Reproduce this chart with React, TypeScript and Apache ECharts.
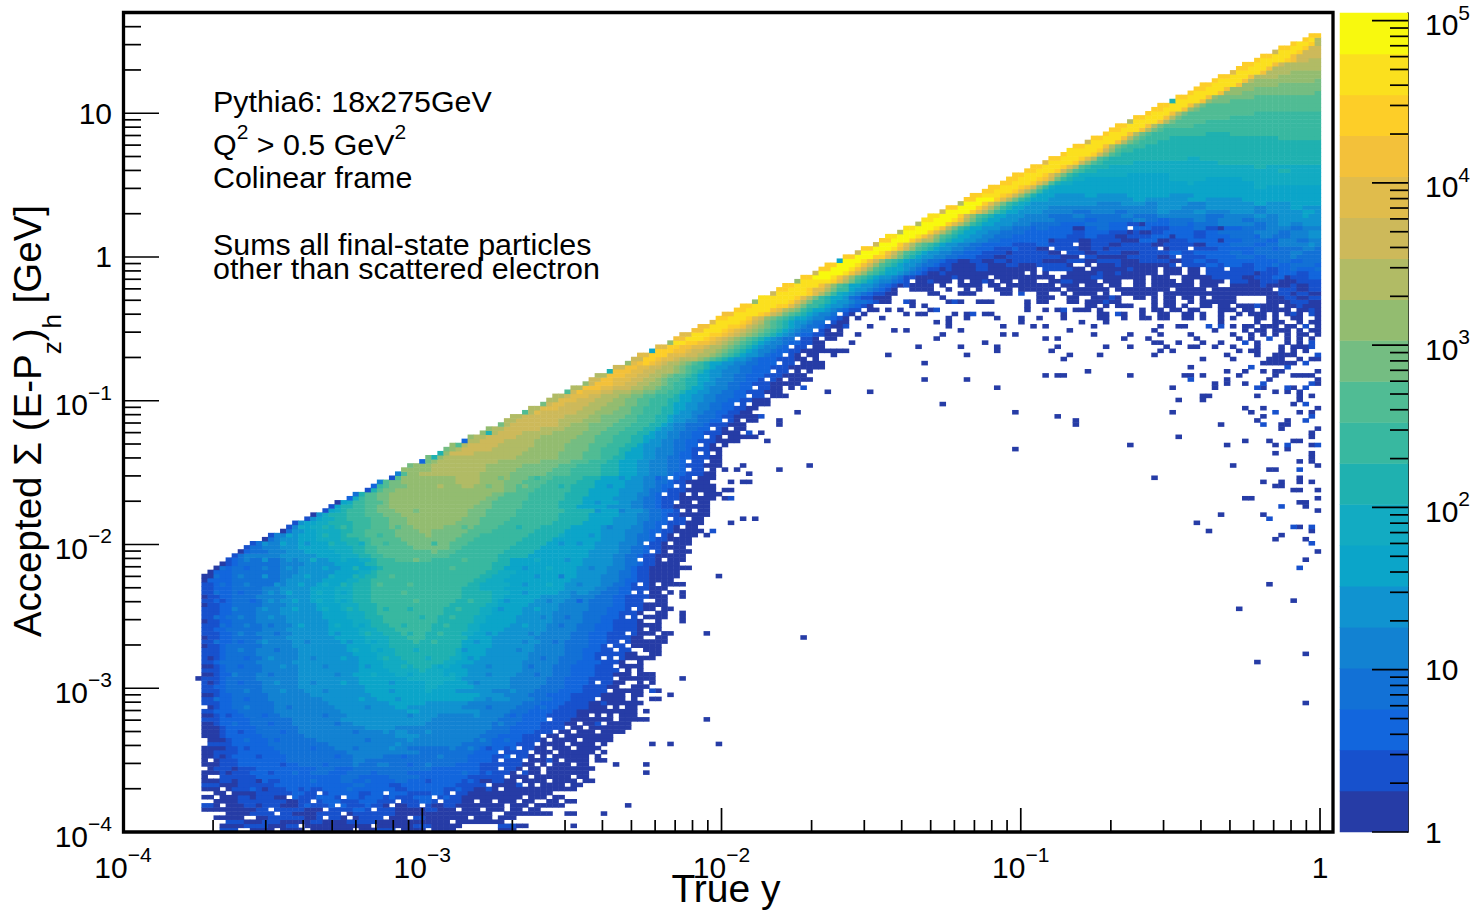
import React, { useEffect, useRef } from "react";
import * as echarts from "echarts";

// Colour band of the palette, from the lowest (1) to the highest (20)
const BAND_COLORS = ["#263ca6","#1751cd","#1266dd","#1271d6","#1282d2","#1093d0","#0ba5c9","#12abc2","#1fb1b0","#38b8a0","#50bc94","#74bd82","#93bc70","#b1bb65","#cdb95a","#e0bc4c","#f3c13a","#fdce28","#fbe01e","#f8f90e"];
const FONT = "Liberation Sans, Arial, Helvetica, sans-serif";

// One line per y bin (bottom to top): start bin, then runs. Letter a..t = colour band, number = last x bin of the run, ".N" = empty up to bin N.
const ROWS = [
"16 b18 .21 a24 .26 a29 .31 a37 .39 a41 .42 b44 .46 a49 .51 a54 .62 a64",
"16 a19 .20 b23 .24 a26 .27 b28 .30 a35 .36 a40 .42 a47 .48 b50 .51 a55 .62 b64 a66",
"17 b19 .20 a22 .23 b25 .26 a30 .31 b32 .33 a36 .37 b41 .42 a46 .47 a48 .49 a53 .55 a59 .60 a62",
"15 a16 .17 a19 .22 a23 .24 b26 .27 b29 a31 .32 b35 a38 .39 b42 .44 a47 b49 .50 a52 a56 .58 a60 .62 a64",
"15 .17 a18 .19 a20 b27 .28 a31 b35 a37 .38 b44 .45 a52 .53 a54 .55 a57 .58 a60 .63 a64 .65 a66 .67 a68 .69 a70 .73 a74",
"13 a15 .16 a17 .18 a21 b29 a32 b37 c39 b44 a49 b51 .52 a54 .56 a58 .60 a62 .64 a65 .67 a68",
"13 b14 a15 .17 a19 b25 a28 b33 c36 b42 a46 b50 a52 b54 a55 .56 a59 .60 a62 .64 a66 .68 a70 .71 a72",
"13 a15 .16 a18 b26 a28 b32 c35 b38 c41 b48 c50 b55 a57 .59 a60 .62 a64 .66 a67 .70 a71 .73 a74",
"13 a14 .16 a18 b24 a26 b31 c34 b36 c42 b47 c50 b55 a60 .61 a63 .64 a65 .67 a69 .71 a72",
"13 a16 .18 a19 a21 b27 c29 b33 c38 b40 c46 b50 c52 b56 a60 .61 a64 .65 a67 .68 a70",
"13 a15 a17 b22 a23 b26 c30 b32 c44 b46 c52 b57 a59 b60 a65 .66 a68 .69 a71 .72 a74",
"13 b15 a16 .17 a18 b24 c37 d39 c43 b45 c54 b60 a64 b65 a67 .69 a72 .74 a75",
"13 a15 b21 a22 b25 c35 d37 c44 d46 c55 b58 a60 b62 a66 .67 a69 .71 a74 .76 a77",
"13 a15 b21 c35 d38 c43 d48 c56 b62 a66 b67 a70 .71 a73 .75 a76",
"13 a15 b20 c30 d33 c36 d46 c55 d56 c58 b63 a65 b66 a72 .73 a74 .75 a76",
"13 a14 b17 a18 b21 c31 d34 c37 d50 c58 b64 a72 .73 a76",
"13 a15 b18 c28 d41 e43 d54 c58 b65 a68 .69 a71 .72 a76",
"13 a15 b18 c26 d37 e39 d56 c60 b66 a69 b70 a72 .73 a76 .78 a79",
"13 a14 b17 c26 d37 e42 d56 c60 b66 a72 .73 a76 .78 a78",
"13 a14 b18 c25 d36 e48 d57 c61 b66 a74 .75 a77 .79 a79",
"13 a15 b18 c24 d34 e46 d56 e57 d58 c62 b67 a73 .74 a78",
"13 b17 c23 d33 e44 f45 e55 d60 c64 b68 a77 .78 a79",
"14 a15 b17 c23 d31 e46 f47 e57 d60 c65 b68 a76 .77 a80",
"13 a15 b16 c22 d29 e44 f48 e58 d61 c65 b69 a74 .75 a80",
"13 a14 b16 c21 d28 e42 f46 e59 d63 c67 b71 a78 .79 a82",
"13 a15 b16 c21 d28 e39 f44 e60 d63 c68 b72 a80 .81 a83",
"13 a14 b15 c20 d27 e37 f49 e60 d64 c68 b72 a77 b78 a81 .82 a83",
"13 b15 c20 d27 e35 f50 e61 d65 c69 b73 a82 .83 a86",
"13 a14 b15 c19 d25 e36 f51 e62 d65 c69 b74 a80 .82 a84",
"13 b14 c18 d24 e35 f46 g48 f58 e63 d66 c70 b74 a80 .81 a84",
"13 a14 b15 c17 d24 e34 f44 g46 f55 e64 d67 c71 b76 a84",
"13 b15 c17 d24 e33 f43 g49 f56 e65 d68 c72 b76 a78 b79 a84",
"13 b14 c17 d23 e32 f41 g57 f63 e67 d70 c73 b77 a82 .84 a84",
"13 a14 b15 c17 d23 e30 f40 g58 f62 e66 d69 c73 b78 a82 .83 a85",
"13 b14 c16 d22 e29 f39 g54 f60 e67 d71 c75 b79 a85",
"13 b14 c16 d22 e28 f39 g49 h51 g57 f63 e68 d72 c75 b79 a84 .85 a86",
"13 b15 c16 d22 e28 f38 g50 h52 g56 f63 e69 d72 c76 b80 a85",
"12 a12 b15 c16 d21 e28 f38 g46 h54 g55 f63 e69 d72 c76 b80 a87",
"13 a14 b15 c17 d21 e28 f37 g44 h52 g56 f64 e70 d73 c77 b80 a85 .86 a87",
"13 b15 c16 d22 e28 f38 g43 h48 i49 h52 g56 f65 e70 d73 c77 b81 a85",
"13 a14 b15 c16 d22 e28 f38 g42 h47 i50 h53 g55 f65 e70 d73 c77 b80 a85",
"13 b14 c15 d21 e27 f38 g42 h46 i52 h54 g57 f65 e71 d74 c78 b81 a86",
"13 b15 c16 d22 e28 f38 g41 h45 i53 h55 g58 f66 e71 d75 c77 b82 a86 .87 a87",
"13 b15 c16 d21 e28 f37 g41 h44 i54 h55 g59 f66 e72 d75 c77 b82 a88",
"13 b14 c16 d21 e28 f36 g40 h44 i54 h56 g59 f67 e72 d75 c78 b83 a86 .87 a88",
"13 a13 b15 c16 d22 e27 f36 g40 h43 i55 g60 f67 e72 d76 c78 b83 a88",
"13 b15 c17 d21 e27 f35 g39 h43 i47 j48 i55 g60 f68 e72 d76 c79 b83 a88",
"13 a13 b15 c17 d22 e26 f34 g39 h43 i46 j49 i56 g60 f67 e73 d76 c79 b83 a89",
"13 b15 c17 d21 e27 f33 g38 h42 i45 j49 i55 h57 g61 f68 e73 d76 c79 b84 a87 .89 a89",
"13 b14 c16 d22 e26 f33 g38 h41 i44 j50 i56 h58 g62 f69 e74 d77 c80 b84 a88",
"13 b15 c17 d22 e27 f33 g37 h40 i43 j50 i56 h58 g63 f69 e74 d77 c80 b84 a87",
"13 a13 b15 c17 d21 e26 f33 g37 h40 i42 j51 i57 h59 g64 f70 e75 d78 c80 b84 a88",
"13 b14 c16 d21 e26 f32 g36 h39 i42 j51 i57 h59 g64 f70 e75 d78 c81 b85 a89",
"13 b15 c17 d21 e25 f32 g36 h39 i41 j52 i58 h60 g65 f70 e75 d79 c81 b84 a89",
"13 b14 c17 d21 e25 f31 g35 h38 i41 j52 i58 h60 g65 f71 e76 d79 c82 b85 a90",
"13 a13 b15 c17 d22 e26 f31 g35 h38 i41 j53 i59 h61 g66 f71 e76 d80 c82 b85 a89",
"13 b14 c17 d22 e25 f30 g34 h37 i40 j54 i60 h61 g67 f72 e76 d80 c82 b85 a89",
"13 a13 b15 c17 d21 e26 f30 g34 h37 i40 j55 i60 h62 g68 f73 e77 d80 c82 b86 a89",
"13 b14 c17 d22 e25 f30 g34 h37 i40 j55 i60 h63 g71 f76 e78 d81 c83 b85 a88 .90 a90",
"13 b14 c17 d22 e25 f30 g34 h37 i40 j55 i58 h62 g72 f77 e79 d81 c83 b86 a89",
"13 b14 c17 d24 e26 f31 g35 h37 i40 j56 i58 h63 g72 f78 e80 d82 c83 b86 a90 .91 a92",
"13 a13 c17 d25 e26 f32 g36 h38 i40 j57 i59 h62 g73 f78 e81 d82 c84 b86 a90",
"13 a14 c17 d25 e27 f33 g37 h39 i41 j58 i60 h63 g74 f78 e81 d83 c84 b86 a91",
"14 a14 c17 d25 e28 f34 g38 h40 i41 j59 i61 h64 g74 f79 e81 d83 c84 b86 a91",
"15 a15 c17 d25 e28 f35 g40 h41 i42 j60 i62 g74 f79 e82 d83 c84 b86 a90 .91 a93",
"16 a16 b17 c18 d25 e29 f34 g39 i41 j60 i63 g75 f80 e82 d84 c85 b87 a91",
"17 b17 c18 d25 e28 f33 g38 h40 i41 j44 k50 j61 i63 g75 f80 e82 d84 c85 b87 a92",
"18 b18 d19 e25 f31 g35 h38 i40 j42 k53 j61 i66 g76 f80 e82 d84 c85 b87 a92",
"19 a19 c20 d23 e26 f29 g34 h37 i39 j41 k50 l51 k54 j62 i67 g76 f81 e83 d85 c86 b88 a93",
"20 b20 d22 e25 f28 g33 h37 i39 j41 k47 l53 k55 j63 i68 g77 f81 e83 d85 c86 b88 a92",
"21 b21 d23 e25 f28 g33 h36 i38 j40 k46 l53 k56 j64 i69 g77 f81 e84 d85 c86 b88 a93",
"23 a23 d24 e25 f28 g31 h35 i38 j40 k45 l54 k57 j65 i70 g78 f82 e84 d86 c87 b89 a93",
"24 b24 e26 f28 g31 h35 i37 j39 k44 l55 k58 j66 i71 g78 f82 e84 d86 c87 b89 a94",
"26 a26 d27 f29 g31 h35 i37 j39 k44 l48 m50 l56 k60 j67 i72 g78 f82 e85 d86 c88 b90 a95",
"27 b27 e28 g30 h34 i37 j39 k43 l47 m52 l57 k61 j68 i73 g78 f83 e85 d87 c88 b90 a94",
"28 b28 f29 g31 h33 i37 j40 k43 l46 m54 l58 k62 j70 i75 g80 f84 e85 d87 c89 b92 a95",
"30 b30 f31 g32 h34 i36 j40 k43 l46 m55 l58 k63 j71 i76 g80 f84 e86 d88 c89 b92 a95",
"31 a31 f32 h33 i36 j39 k42 l45 m56 l59 k64 j71 i76 g81 f84 e86 d88 c89 b91 a96",
"33 b33 g34 i36 j39 k41 l44 m56 l59 k64 j72 i77 g81 f85 e86 d88 c90 b91 a96",
"34 b34 g35 i37 j39 k41 l43 m57 l60 k65 j71 i74 g79 f83 e85 d87 c88 b90 a96",
"35 a35 g36 h37 j39 k41 l43 m58 l60 k65 j71 i75 g80 f83 e85 d87 c88 b90 a96",
"37 c37 h38 j39 k41 l43 m59 l61 k66 j72 i75 g80 f84 e85 d87 c88 b91 a95 .96 a97",
"38 d38 i39 k41 l43 m60 l62 k66 j72 i76 g81 f84 e86 d87 c89 b91 a96 .98 a98",
"40 b40 i41 k42 l44 m62 l64 k67 j73 i76 g81 f85 e86 d88 c89 b92 a96 .97 a97 .99 a100",
"41 c41 j42 k43 l45 m55 n57 m62 l64 k68 j73 i77 g82 f85 e87 d88 c90 b92 a95 .96 a97",
"42 e42 k43 l45 m54 n58 m62 l65 k69 j74 i77 g82 f85 e87 d89 c90 b92 a96",
"44 b44 k45 m53 n58 m63 l66 k70 j75 i78 g83 f85 e88 d89 c91 b93 a97",
"45 e45 k46 m48 n58 m63 l69 k73 j78 i81 g84 f86 e89 d90 c92 b95 a97",
"46 m50 n59 m64 l70 k73 j78 i81 g84 f86 e89 d91 c92 b95 a97 .99 a99 .101 a101",
"47 l47 m50 n59 m65 l71 k74 j78 i81 g84 f86 e89 d91 c92 b95 a97 .98 a98",
"49 c49 l50 m51 n61 m68 l73 k76 j79 i81 g84 f86 e89 d91 c93 b95 a98",
"50 l50 i51 m52 n64 m71 l75 k78 j80 i82 g85 f87 e89 d91 c93 b96 a98",
"52 i52 m53 o57 n65 m71 l75 k78 j81 i82 g85 f87 e90 d91 c93 b96 a98",
"53 l53 m54 n55 o60 n66 m72 l76 k78 j81 i83 g85 f87 e90 d92 c93 b96 a98",
"54 m54 k55 n56 o61 n67 m72 l76 k79 j82 i84 g85 f88 e90 d92 c94 b96 a99",
"56 c56 n58 o62 n67 m73 l77 k80 j83 i85 g86 f88 e90 d92 c94 b97 a99 .100 a101",
"57 m57 n59 o64 n68 m74 l77 k80 j83 i85 g87 f89 e91 d93 c95 b97 a100 .101 a102",
"59 m59 i60 n61 o65 n70 m75 l78 k81 j84 i86 g87 f89 e91 d93 c95 b98 a101",
"60 m60 n62 o68 n72 m76 l79 k82 j85 i87 g88 f90 e92 d94 c96 b98 a101 .102 a102",
"62 l62 n63 o71 n73 m76 l80 k83 j86 i88 g89 f90 e92 d95 c96 b99 a102",
"63 n64 o71 n75 m78 l81 k84 j87 i89 g90 f92 e94 d96 c98 b100 a104",
"64 n65 o72 n76 m78 l82 k84 j87 i89 g90 f93 e94 d97 c98 b100 a103 .104 a105",
"66 k66 n67 p68 o74 n77 m80 l83 k85 j88 i90 g91 f93 e95 d97 c99 b101 a103",
"67 n68 p71 o75 n78 m81 l83 k85 j88 i90 g92 f94 e96 d98 c100 b102 a104",
"69 l69 o70 p72 o76 n79 m82 l84 k86 j89 i90 g92 f94 e96 d98 c100 b103 a105",
"70 n71 p74 o77 n80 m82 l84 k86 j89 i91 g93 f95 e97 d99 c101 b103 a106",
"71 n72 o73 p76 o78 n81 m83 l85 k87 j90 i91 g93 f95 e97 d100 c102 b105 a107 .108 a109",
"73 k73 o74 q75 p78 o80 n83 m85 l87 k89 j91 i92 g94 f96 e98 d100 c102 b105 a108",
"74 n75 q78 p80 o83 n85 m87 l88 k90 j92 i93 g95 f96 e99 d101 c103 b106 a110",
"76 m76 o77 q80 p82 o84 n86 m88 l89 k90 j92 i94 g95 f97 e99 d101 c103 b106 a109 .110 a111",
"77 o78 q80 p83 o85 n87 m88 l89 k91 j92 i94 g96 f97 e100 d102 c104 b107 a110 .111 a113",
"78 n79 q82 p84 o86 n88 m89 l90 k92 j93 i94 g96 f98 e100 d102 c105 b108 a112",
"80 i80 q83 p85 o87 n90 m91 l92 k93 j94 i95 g96 f98 e101 d103 c106 b109 a113",
"81 o82 q84 p86 o88 n90 m91 l92 k93 j95 i96 g97 f99 e101 d103 c106 b109 a114",
"83 m83 p84 q85 r86 q87 p88 o89 n91 m92 l93 k94 j95 i96 g98 f100 e102 d104 c107 b110 a112 .113 a115",
"84 o85 r87 q88 p90 o91 n94 m95 l96 k97 j98 i99 g100 f102 e103 d104 c107 b110 a112 .114 a114",
"85 p86 r89 p92 o94 n96 m97 l98 k99 j100 i101 g102 f104 e105 d106 c108 b110 a114",
"87 g87 r90 q92 p93 o95 n97 m98 l99 k100 j101 i102 g103 f104 e106 d107 c109 b111 a114 .115 a119",
"88 p89 r91 q93 p95 o96 n98 m99 l100 k101 j102 i103 g104 f105 e107 d108 c110 b112 a115",
"90 m90 s92 r94 q96 p97 o98 n99 m100 l101 k102 j103 i104 g105 f106 e108 d109 c111 b113 a115",
"91 q92 s95 r96 q97 p98 o99 n100 m101 l102 k103 j104 i105 g106 f107 e108 d110 c111 b113 a117",
"92 p93 s96 r98 q99 p100 o101 n102 m103 l104 k105 j106 i107 g108 f109 e110 d111 c113 b115 a118",
"94 q95 s98 r99 q100 p101 o102 n103 m104 l105 k106 j107 i108 g109 f110 e111 d113 c114 b115 a118",
"95 q96 s99 r101 q102 o103 n104 m105 l106 k107 j108 i109 g110 f111 e112 d114 c115 b116 a118",
"97 p97 s101 r102 q103 o104 n105 l106 k107 j108 i109 g110 f112 e113 d115 c116 b117 a119",
"98 r99 s102 r103 p104 o105 m106 l107 k108 j109 i110 g112 f113 e115 d116 c117 b118 a119",
"99 q100 s103 s104 r105 q106 o107 n108 l109 k110 j111 i112 g113 f114 e116 d117 c118 b119 a120 .122 a122 .129 a129 .131 a132 .137 a137 .139 a139 b140 .142 a143 .155 a155 .161 a162 .164 b164 a165 .168 a168 .171 a172 .175 a176 .178 a178 .181 a181 .184 a184 .186 a188 .190 a190 .192 a192 b193 a194 .196 b196 a197",
"101 r102 s105 s106 q107 p108 n109 m110 l111 j112 i113 g115 f116 e117 d118 c119 b120 a120 b121 .123 a124 .126 a126 .128 a128 .133 a133 b134 .149 a149 .152 a152 .154 a154 b155 .157 a159 .161 a161 .168 a168 .170 a171 .173 a174 .176 a177 .181 a183 .185 a186 .188 a192 .194 a195 b196 a197",
"102 r103 s107 r109 p110 n111 l112 j114 i115 g116 f118 e119 d120 c121 b122 a123 .130 a130 .132 a132 .149 a149 .159 a160 .162 a162 .164 a166 .170 a170 .172 a173 .175 a175 .178 a179 .181 a182 .184 a186 b187 a190 .192 a193 b194 .195 a197",
"104 m104 s108 s109 r110 p111 n112 l113 j115 i116 g117 f119 e120 d122 c123 b124 a126 .129 b129 a130 .136 a136 b137 a138 .141 a143 .149 a149 .151 a152 .156 a157 .159 a161 b162 a163 .164 a164 .170 a170 .172 a173 .176 a176 .178 a180 .181 a183 .189 a192 .193 b195 a197",
"105 s106 s109 s110 r111 p112 n113 l114 j115 i116 g118 f119 d120 c121 b123 a126 .135 a135 .151 a152 .153 a153 .156 a157 .160 a160 .161 a162 .163 b163 a164 .167 a168 .170 a170 .172 a173 .175 a176 .178 a178 .180 a183 .189 a191 b193 a195 b197",
"107 o107 s111 s112 r113 p114 n115 l116 j117 h118 g119 f120 e121 d122 c123 b125 a127 .133 a134 .138 a140 .145 a146 .148 b148 .151 a152 .155 a155 .157 a157 .158 a160 .162 a162 .165 a167 .168 a169 .170 a170 .172 a173 .174 a178 .179 a184 .185 a190 b192 a193 b195 a198",
"108 r109 s112 r113 p115 n116 l117 j119 g120 f122 e123 d124 c125 b126 a127 .130 a133 .136 a136 .139 a139 .141 a141 .144 a146 .148 a149 .150 a152 .153 a154 .156 a158 .159 a161 .162 a162 .164 a165 .166 a168 .169 a172 .174 a175 .176 a178 .180 a181 .182 a186 .187 a189 .191 b193 a195 b198",
"109 r110 s113 s114 q115 o116 m117 k118 j119 g121 f123 e124 d125 c126 b127 a128 b129 .130 a133 .135 a135 .138 a141 .143 a144 .146 a149 .150 a153 .155 a157 .159 a161 .163 a164 .167 a168 .170 a172 .173 a175 .176 a176 .178 a180 .183 a187 b188 .189 a192 b193 .194 a195 b198",
"111 m111 s115 s116 r117 p118 n119 l120 j121 i122 g123 f124 e126 d127 c128 b129 .131 a132 b133 a136 .138 a138 .140 a141 b142 a143 .145 a146 .148 a150 .153 a154 .155 b156 a157 .158 a160 .162 a164 .167 a168 .170 a173 .175 a176 .178 a181 .183 b185 a187 b190 a193 b197 c198",
"112 r113 t116 s117 q118 o119 m120 k121 j122 i123 g124 f126 e127 d128 b130 a131 .132 a134 .135 a136 b137 a139 .140 a142 .144 a146 .147 a151 .152 a153 .155 a157 .158 a159 .160 b161 a164 .165 a168 .170 a172 .175 a176 .177 a179 .180 b184 a186 b189 c191 a192 b195 c198",
"114 o114 t118 s119 q120 o121 m122 k123 j124 i125 g127 f128 e129 d130 c131 b132 a134 b135 a137 .138 a139 a142 .143 a145 a148 .150 a150 .152 a152 .156 a160 b161 a163 b164 a166 .167 a168 .169 a170 .172 a174 .176 a177 .179 b182 .183 b186 a187 b190 c193 b195 c198",
"115 r116 t119 s120 q121 o122 m123 k124 j125 h126 g128 f129 e130 d131 c132 b134 a135 b136 a140 b142 a144 .145 a146 .147 a150 .152 b156 a158 .160 a162 .163 a165 b166 .167 a170 .172 a174 .176 a177 .179 b181 .183 b186 c188 b190 c192 d193 c196 d198",
"116 r117 t120 s121 q122 o123 m124 k125 j126 i127 g128 f130 e131 d133 c134 b136 a140 b142 a143 .144 a145 b147 a150 b155 a156 .159 a159 .161 a163 b164 a165 .166 a172 b173 .175 b178 c180 b181 c184 b186 c189 d190 c192 d196 c198",
"118 g118 t121 s122 q123 o124 m125 k126 j127 i128 g129 f131 e132 d134 c135 b137 a139 b141 a143 b145 a146 b151 .152 a155 b158 a160 b164 a167 b168 .169 b172 a174 b176 c178 b180 .181 c182 .183 c190 d192 c194 d198",
"119 r120 t123 r125 p126 n127 l128 j129 i130 g131 f133 e135 d137 c140 b143 a145 b149 .150 b154 .155 a157 .159 b160 .161 a165 b170 a172 b173 .175 b178 c183 d186 c188 d192 e193 d198",
"121 o121 t124 s125 q126 o127 m128 k129 j130 i131 g132 f134 e136 d138 c141 b145 a146 b152 .153 a154 .156 b158 a160 b164 .165 a167 b172 c174 b176 c182 d184 c186 d192 e194 d198",
"122 r123 t126 s127 q128 o129 m130 k131 j132 i133 g134 f136 e138 d140 c143 b146 c147 b150 a152 .154 b157 a159 .160 b161 a162 b170 .172 a172 b175 .177 b180 c186 d189 c190 d194 e196 d198",
"124 o124 t127 r128 p129 n130 l131 k132 j133 i134 g135 f137 e139 d141 c146 b150 c152 b156 .158 a159 b162 a164 b169 a171 b176 a178 c182 d186 c188 d190 e195 f196 e198",
"125 r126 t129 r130 p131 n133 l134 j135 i136 g138 f140 e142 d144 c152 a153 b157 a159 b164 a167 c170 a172 b175 c180 a181 c184 d188 c190 e193 d195 e198",
"126 s127 t130 s131 q132 o133 m134 k135 j136 i137 g139 f141 e143 d146 c155 b158 c160 b163 a165 b169 c172 a173 c176 b178 c182 d186 c187 e189 d192 e195 f198",
"128 n128 t132 r133 p134 n135 l136 j137 i138 g140 f142 e144 d148 c156 b158 c162 b165 a166 b167 .168 a169 b171 c176 b178 c180 d186 e190 d192 e195 f198",
"129 s130 t133 s134 q135 n136 l137 j138 i139 g141 f144 e146 d149 c150 d152 c156 a158 c160 d162 c165 .167 c169 .170 b172 c176 d178 b180 a181 c184 d188 e192 d194 e198",
"131 n131 t135 r136 p137 n138 l139 j140 i141 g143 f146 e149 d154 c158 d162 c165 b167 a168 c172 d175 c176 d180 e186 d188 e190 f192 e194 f198",
"132 s133 t136 s137 q138 n139 l140 j141 i142 g144 f147 e153 d158 c160 d166 e168 d170 c172 d176 e178 d180 e184 d186 e190 f198",
"133 s134 t137 r138 o139 m140 k141 j142 i143 g145 f148 e152 d156 e158 d164 e166 d170 e178 d181 e186 f188 e190 f194 g195 f198",
"135 o135 t139 r140 p141 n142 l143 j144 i145 g147 f151 e156 d159 e163 d165 e170 f172 e176 f178 e182 f186 e188 f194 g196 f198",
"136 r137 t140 r141 p142 n143 l144 j145 i146 g148 f152 e170 f174 e178 f186 e188 f192 g194 f198",
"138 n138 t141 r142 p143 n144 l145 j146 i147 h148 g149 f160 e164 f168 e170 f175 e178 f186 g188 f192 g198",
"139 r140 t143 r144 p145 n146 l147 j148 i149 g152 f166 g168 f175 g178 f184 g198",
"140 r141 s144 r145 q146 o147 m148 k149 i150 g153 f158 g160 f165 g172 f176 g198",
"142 r143 s146 r147 p148 n149 l150 j151 h152 g198",
"143 r144 s147 r148 q149 o150 l151 j152 h153 g186 h188 g198",
"145 r146 s149 r150 p151 n152 k153 i154 h156 g175 h176 g186 h198",
"146 r147 s150 r151 q152 o153 l154 j155 i156 h158 g172 h178 g184 h198",
"147 r148 s151 r152 p153 n154 l155 j156 i157 h165 g172 h198",
"149 r150 s153 r154 o155 m156 k157 j158 i160 h190 i192 h198",
"150 r151 s154 r155 p156 n157 k158 j159 i162 h186 i188 h198",
"152 p152 s156 r157 o158 m159 k160 j161 i166 h180 i198",
"153 r154 s157 r158 p159 n160 k161 j162 i175 h177 i198",
"155 r155 s159 r160 o161 m162 k163 j164 i198",
"156 s157 s160 r161 o162 m163 k164 j166 i198",
"157 r158 s161 q162 n163 l164 k165 j168 i198",
"159 o159 s163 q164 n165 l166 k167 j170 i198",
"160 r161 s164 q165 n166 l167 k168 j172 i190 j198",
"162 r162 s165 q166 n167 l168 k169 j178 i182 j198",
"163 r164 s167 q168 n169 l170 k171 j198",
"164 r165 s168 q169 n170 l171 k176 j198",
"166 n166 s170 q171 n172 l173 k178 j198",
"167 r168 s171 q172 n173 l174 k182 j198",
"169 r169 s172 q173 n174 l175 k186 j198",
"170 r171 s174 q175 m176 l177 k198",
"171 r172 s175 q176 n177 l178 k198",
"173 i173 s177 q178 m179 l182 k198",
"174 r175 s178 q179 m180 l186 k198",
"176 r176 s180 q181 m184 l196 k198",
"177 r178 s181 q182 m186 l198",
"178 r179 s183 q184 m190 l198",
"180 r180 s184 q185 n186 m196 l198",
"181 r182 s185 q186 n190 m198",
"183 p183 s187 q188 n192 m198",
"184 r185 s188 q189 n197 m198",
"185 r186 s189 q190 o191 n198",
"187 r187 s191 r192 q193 o195 n198",
"188 r189 s192 q193 o198",
"190 o190 s193 r194 o198",
"191 r192 s194 r195 o198",
"193 r193 s195 r196 n198",
"195 r195 s196 n198",
"196 r198",
];

// Single cells whose band differs from their neighbours: "y bin:x bin + band letter"
const SPECKLES = [
"6:22a,30c,40c,47b","8:21a,28c,39b,44c,53c","10:21c,29b,37d,48c,55c","12:18a,23c,31d,40d,50b,57c",
"14:17a,24b,28d,41c,52c,60c","16:21c,26b,33c,38e,47c,50e,61b","18:16a,22b,30d,35c,46c,52e,63c",
"20:16a,20b,27d,31c,38d,44f,54e,60b,64c","22:16a,20d,25c,34e,40d,50e,59e,63d","24:15a,19b,26c,33e,38d,44e,50f,56e,65c",
"26:14a,18d,24c,31e,35d,42f,54e,62e,66c","28:14a,17b,23c,29e,33d,41f,47e,58f,64c","30:16c,20e,27d,37f,40e,50f,60d,69d",
"32:15d,20c,28e,36f,39g,45f,52g,60e,66e","34:15b,20e,26f,33e,44f,50h,57f,64f","36:14a,19c,25f,31e,36g,44f,50h,58e,66e",
"38:14a,18e,24d,30f,35e,41h,47g,54h,60e,68d","40:15b,19c,26f,33e,40f,46i,52g,60e,67d","42:14a,20c,24f,31e,36g,43i,50h,57f,69d",
"44:15b,19e,25d,32f,38h,42g,48h,56f,65e","46:15d,19c,23f,30e,37f,41g,51j,58f,66e,71d","48:15b,19e,25d,30f,35f,40i,47i,52j,60f,67e",
"50:16d,20e,24d,29g,35h,39g,46i,53j,60g,66g,72d","52:15d,19e,24f,29f,34g,38h,44j,49i,54j,61g,69e,73d","54:15b,18e,23f,28g,33h,37i,43i,47i,55j,62f,68g",
"56:16b,21c,24f,28g,32h,36g,42j,48k,57j,63f,70e,75c","58:15d,19c,24f,27g,32h,36g,41j,46k,58i,66f,70g,74e","60:16d,20e,25f,29g,33h,36i,42k,47k,60h,66f,70h,75e",
"62:15d,19e,23f,30g,34h,38i,44k,52j,62h,68f,72e","64:16d,20c,23e,27f,33g,38i,46j,54k,66f,70h,77e","66:20e,23f,27f,31h,36h,44j,48l,56k,68h,73f",
"70:23f,26g,30f,34i,39h,43j,51j,60j,72f,75f","72:27g,30g,33i,37j,42j,50m,62j,72h,77f","74:29h,33i,36j,40j,45k,56k,65i,74g,80e",
"78:35h,38j,40k,48l,60k,70j,75i,78f,82e","80:42k,46m,62k,68j,72i,78f,81g","84:46l,52n,60l,66l,72i,80f","86:48m,54m,62l,68j,74j,82f,88c",
];

// Empty cells inside the dark fringe of the solid region: "y bin:x bins"
const GAPS = [
"60:85,88","58:84,86","56:86,87","54:84,88","53:86,87","52:83,85","51:86,87","49:86","48:83","47:86,87","46:82","45:80,83","44:81,84,85","43:85,86",
"42:79,81","41:83,84,86","40:81","39:82,84","38:84","37:81","36:78,83,84","35:82,83","34:80","33:83","32:78","30:80,82","28:77,79","27:70,81","26:75,79","25:73,76","24:71,74,78","23:69,72","22:70,75","21:68,73,78","20:65,70,74","19:62,67,71","18:64,68,70","17:62,66,72","16:68,70,74","15:62,66,69","14:65,69","13:63,67","12:65","11:60,66","10:62,16","9:13,14,17","8:15","7:13,14",
"17:14","21:13","30:13","15:13","13:14,15","5:24,33,41","4:25,36","3:33,37,47","6:35,44,49","7:31,45,52","8:27,36,51","9:32,43,54",
"104:101,103","106:103,106","108:104,109","110:106,109","112:107,110,112","114:108,111","116:109,112","118:110,113","120:111,115","122:114,117","124:116","126:118",
"76:90,93","78:92,94","80:91,94","82:89,93,95","84:91,93","86:90,94","88:93,96","90:93,96","92:95,97","94:95,98","96:96,99","98:97,100","100:99,102",
"66:85,89","68:87,90","70:86,90","72:88,91","74:89,92",
];

// Isolated cells below the solid region, "y bin:x bins", in band 1 and band 2
const SPARSE_BAND1 = [
"125:121,125,136,139,144,148,151,155,161,162,165,168,169,171,172,175,176,178,181,183,187,188,190,193,194,197",
"124:134,136,148,158,162,181,187,190,191,194,196,197",
"123:123,136,145,150,152,160,171,174,175,183,185,186,188,189,190,192,193,197",
"122:127,129,138,156,170,180,185,187,188,190,191,192,194,196,197",
"121:121,135,145,147,160,166,171,176,183,186,188,190,192,194,195,197",
"120:134,152,154,165,169,177,184,186,192,194,196",
"119:120,142,170,171,174,178,181,187,192,194",
"118:131,138,144,154,162,166,172,176,177,180,183,187,191,193,194,195",
"117:144,153,171,173,184,186,187,191,193,195",
"116:117,126,139,156,161,170,182,187,190,191,192,193",
"115:155,178,183,189,190,191,194,196,197",
"114:132,188,189,190,191,192,193",
"113:115,176",
"112:159,182,185,188,190,191,197",
"111:152,154,155,166,175,176,178,184,190,193,194,195,196",
"110:132,139,182,189,197",
"109:180,182,185,197",
"108:144,173,180,188,193",
"107:116,123,190,192,194",
"106:108,109,178,179,187,194,196",
"105:105,174,178,194",
"104:106,135,193",
"103:185,188,197",
"102:111,147,173,186,194,196",
"101:154,188",
"100:108,157,187,192",
"99:108,157,181,191,192",
"98:191,197",
"97:105,196",
"96:103,104,174,196",
"95:106,185,189,193,194",
"94:166,182,190,196",
"93:147,192",
"92:190,196",
"91:196",
"90:194,196",
"89:102,113,183,197",
"88:108,189,190",
"87:103",
"86:170,194",
"85:100,102,103,188,191,194,196",
"84:190,191",
"83:193,194,197",
"82:97",
"81:97,99,185,186,197",
"80:194,195",
"79:195",
"78:197",
"77:181,188",
"76:102,104",
"75:100,177",
"74:194",
"73:179,196",
"72:96,191",
"71:190,195",
"68:197",
"66:195",
"62:98",
"60:189",
"58:92",
"57:92",
"56:193",
"54:184",
"53:92",
"52:92",
"51:92",
"50:88",
"48:90,96",
"47:112",
"46:89",
"45:88",
"44:88",
"43:195",
"41:187",
"37:92",
"36:87",
"34:88",
"33:90",
"32:87,88",
"31:85,195",
"29:86",
"27:96",
"21:87,90,98",
"16:81,86",
"15:77",
"14:86",
"6:83",
"4:79",
"1:74",
];
const SPARSE_BAND2 = ["123:119,179,181,195","120:189","119:185,196","118:196","116:197","114:195","113:186,192","110:176","109:188,196","108:112,187,192,195","104:195","102:190","101:105,196","100:195","99:188","97:103","94:192,197","88:194","81:100","79:191","76:189","74:193,196","73:97","70:196","64:194","34:87"];

const X_BIN_COUNT = 200;
const Y_BIN_COUNT = 200;
const LAST_FILLED_X_BIN = 197;
const DECADES_X = [-4, -3, -2, -1];
const DECADES_Y = [-4, -3, -2, -1, 0];
const DECADES_Z = [0, 1, 2, 3, 4];
const MULTIPLES = [1, 2, 3, 4, 5, 6, 7, 8, 9];

function buildCells() {
  const cells = new Map<string, number[]>();
  const put = (c: number, j: number, l: number) => {
    if (c <= LAST_FILLED_X_BIN) cells.set(c + "_" + j, [c, j, l]);
  };
  ROWS.forEach((s, j) => {
    const t = s.trim().split(/\s+/);
    let c = +t[0];
    for (const tok of t.slice(1)) {
      const end = +tok.slice(1);
      if (tok[0] === ".") { c = end; continue; }
      const l = tok.charCodeAt(0) - 96;
      for (; c <= end; c++) put(c, j, l);
    }
  });
  SPECKLES.forEach((s) => {
    const [j, list] = s.split(":");
    list.split(",").forEach((e) => {
      const col = parseInt(e, 10);
      const l = e.charCodeAt(e.length - 1) - 96;
      if (cells.has(col + "_" + j)) put(col, +j, l);
    });
  });
  GAPS.forEach((s) => {
    const [j, list] = s.split(":");
    list.split(",").forEach((c) => cells.delete(+c + "_" + j));
  });
  const addSparse = (list: string[], l: number) => list.forEach((s) => {
    const [j, cols] = s.split(":");
    cols.split(",").forEach((c) => put(+c, +j, l));
  });
  addSparse(SPARSE_BAND1, 1);
  addSparse(SPARSE_BAND2, 2);
  return Array.from(cells.values());
}

const ticksOf = (decades: number[], extra: number[]) => {
  const out: number[] = [];
  decades.forEach((d) => MULTIPLES.forEach((m) => out.push(m * Math.pow(10, d))));
  return out.concat(extra);
};

// plain: the style name of labels without exponent
const logLabel = (plain: string) => (v: number) => {
  const lg = Math.log10(v);
  const e = Math.round(lg);
  if (Math.abs(lg - e) > 1e-6) return "";
  if (e === 0) return "{" + plain + "|1}";
  if (e === 1) return "{" + plain + "|10}";
  return "{a|10}{s|" + (e < 0 ? "\u2212" + -e : e) + "}";
};
const LABEL_RICH = {
  a: { fontFamily: FONT, fontSize: 30, lineHeight: 38, verticalAlign: "bottom", color: "#000" },
  p: { fontFamily: FONT, fontSize: 30, lineHeight: 30, color: "#000" },
  s: { fontFamily: FONT, fontSize: 21, lineHeight: 21, verticalAlign: "top", color: "#000" },
};

const isDecade = (v: number) => Math.abs(Math.log10(v) - Math.round(Math.log10(v))) < 1e-6;

export default function App() {
  const ref = useRef<HTMLDivElement>(null);
  useEffect(() => {
    document.body.style.margin = "0";
    const chart = echarts.init(ref.current!, null, { renderer: "svg" });
    const xTicks = ticksOf(DECADES_X, [1]);
    const yTicks = ticksOf(DECADES_Y, [10, 20, 30, 40]);
    const zTicks = ticksOf(DECADES_Z, [100000]);
    const tickLine = (x1: number, y1: number, x2: number, y2: number) => ({
      type: "line", shape: { x1, y1, x2, y2 }, style: { stroke: "#000", lineWidth: 1.7 },
    });
    chart.setOption({
      animation: false,
      backgroundColor: "#fff",
      grid: [
        { left: 123, top: 13, width: 1210, height: 819, show: false, outerBoundsMode: "none" },
        { left: 1340, top: 13, width: 68, height: 819, show: false, outerBoundsMode: "none" },
      ],
      xAxis: [
        { type: "category", gridIndex: 0, data: Array.from({ length: X_BIN_COUNT }, (_, i) => i), show: false },
        {
          type: "log", logBase: 10, gridIndex: 0, min: 1e-4, max: 1.105, position: "bottom",
          axisLine: { show: false, onZero: false }, axisTick: { show: false }, splitLine: { show: false },
          axisLabel: { formatter: logLabel("a"), rich: LABEL_RICH, margin: 12, interval: 0, hideOverlap: false, showMinLabel: true, showMaxLabel: true },
        },
        { type: "category", gridIndex: 1, data: ["z"], show: false },
      ],
      yAxis: [
        { type: "category", gridIndex: 0, data: Array.from({ length: Y_BIN_COUNT }, (_, i) => i), show: false },
        {
          type: "log", logBase: 10, gridIndex: 0, min: 1e-4, max: 49.8, position: "left",
          axisLine: { show: false, onZero: false }, axisTick: { show: false }, splitLine: { show: false },
          axisLabel: { formatter: logLabel("p"), rich: LABEL_RICH, margin: 11, interval: 0, hideOverlap: false, showMinLabel: true, showMaxLabel: true },
        },
        { type: "category", gridIndex: 1, data: BAND_COLORS.map((_, i) => i + 1), show: false },
        {
          type: "log", logBase: 10, gridIndex: 1, min: 1, max: 111400, position: "right",
          axisLine: { show: true, onZero: false, lineStyle: { color: "#000", width: 1.7 } }, axisTick: { show: false }, splitLine: { show: false },
          axisLabel: { formatter: logLabel("p"), rich: LABEL_RICH, margin: 17, interval: 0, hideOverlap: false, showMinLabel: true, showMaxLabel: true },
        },
      ],
      visualMap: {
        type: "piecewise", show: false, dimension: 2, seriesIndex: [0, 1],
        pieces: BAND_COLORS.map((color, i) => ({ gte: i + 0.5, lt: i + 1.5, color })),
      },
      series: [
        {
          type: "heatmap", xAxisIndex: 0, yAxisIndex: 0, data: buildCells(), silent: true, progressive: 0,
          emphasis: { disabled: true }, itemStyle: { borderWidth: 0 },
        },
        {
          type: "heatmap", xAxisIndex: 2, yAxisIndex: 2, data: BAND_COLORS.map((_, i) => [0, i, i + 1]), silent: true,
          emphasis: { disabled: true }, itemStyle: { borderWidth: 0 },
        },
        {
          type: "custom", xAxisIndex: 1, yAxisIndex: 1, silent: true, clip: false, z: 5,
          data: xTicks.map((v) => [v, 1e-4]), encode: { x: 0, y: 1 },
          renderItem: (_: any, api: any) => {
            const v = api.value(0);
            const p = api.coord([v, 1e-4]);
            return tickLine(p[0], p[1], p[0], p[1] - (isDecade(v) ? 24 : 12));
          },
        },
        {
          type: "custom", xAxisIndex: 1, yAxisIndex: 1, silent: true, clip: false, z: 5,
          data: yTicks.map((v) => [1e-4, v]), encode: { x: 0, y: 1 },
          renderItem: (_: any, api: any) => {
            const v = api.value(1);
            const p = api.coord([1e-4, v]);
            return tickLine(p[0], p[1], p[0] + (isDecade(v) ? 36 : 18), p[1]);
          },
        },
        {
          type: "custom", xAxisIndex: 2, yAxisIndex: 3, silent: true, clip: false, z: 5,
          data: zTicks.map((v) => [0, v]), encode: { x: 0, y: 1 },
          renderItem: (params: any, api: any) => {
            const v = api.value(1);
            const p = api.coord([0, v]);
            const r = params.coordSys.x + params.coordSys.width;
            return tickLine(r, p[1], r - (isDecade(v) ? 36 : 18), p[1]);
          },
        },
      ],
      graphic: [
        { type: "rect", z: 100, silent: true, shape: { x: 123.5, y: 12.5, width: 1209.5, height: 819.5 }, style: { fill: "transparent", stroke: "#000", lineWidth: 3.3 } },
        { type: "text", x: 213, y: 101, z: 50, silent: true, style: { text: "Pythia6: 18x275GeV", font: `30.4px ${FONT}`, fill: "#000", verticalAlign: "middle" } },
        {
          type: "text", x: 213, y: 140, z: 50, silent: true,
          style: {
            text: "{a|Q}{s|2}{a| > 0.5 GeV}{s|2}", verticalAlign: "middle", fill: "#000",
            rich: {
              a: { fontSize: 30.4, fontFamily: FONT, lineHeight: 38, verticalAlign: "bottom", fill: "#000" },
              s: { fontSize: 21, fontFamily: FONT, lineHeight: 21, verticalAlign: "top", fill: "#000" },
            },
          },
        },
        { type: "text", x: 213, y: 177, z: 50, silent: true, style: { text: "Colinear frame", font: `30.4px ${FONT}`, fill: "#000", verticalAlign: "middle" } },
        { type: "text", x: 213, y: 244, z: 50, silent: true, style: { text: "Sums all final-state particles", font: `30.4px ${FONT}`, fill: "#000", verticalAlign: "middle" } },
        { type: "text", x: 213, y: 268, z: 50, silent: true, style: { text: "other than scattered electron", font: `30.4px ${FONT}`, fill: "#000", verticalAlign: "middle" } },
        { type: "text", x: 726, y: 888, z: 50, silent: true, style: { text: "True y", font: `39px ${FONT}`, fill: "#000", align: "center", verticalAlign: "middle" } },
        {
          type: "text", x: 36, y: 421, rotation: Math.PI / 2, z: 50, silent: true,
          style: {
            text: "{a|Accepted \u03A3 (E-P}{s|z}{a|)}{s|h}{a| [GeV]}", align: "center", verticalAlign: "middle", fill: "#000",
            rich: {
              a: { fontSize: 38.5, fontFamily: FONT, lineHeight: 57, verticalAlign: "top", fill: "#000" },
              s: { fontSize: 26, fontFamily: FONT, lineHeight: 26, verticalAlign: "bottom", fill: "#000" },
            },
          },
        },
      ],
    });
    return () => chart.dispose();
  }, []);
  return <div ref={ref} style={{ width: 1474, height: 911 }} />;
}
